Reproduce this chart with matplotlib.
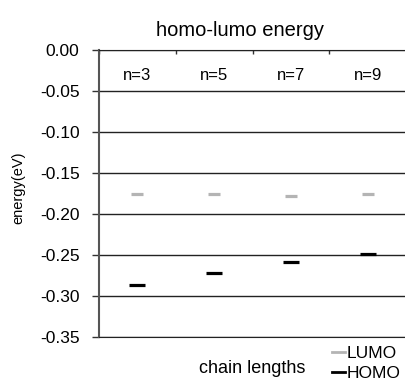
import matplotlib
matplotlib.use("Agg")
import matplotlib.pyplot as plt
from matplotlib.lines import Line2D

plt.rcParams['font.family'] = ['Liberation Sans', 'DejaVu Sans']

chains = ['n=3', 'n=5', 'n=7', 'n=9']
lumo = [-0.176, -0.176, -0.178, -0.176]
homo = [-0.287, -0.272, -0.259, -0.249]

fig = plt.figure(figsize=(4.06, 3.84), dpi=100)
ax = fig.add_axes([0.244, 0.1224, 0.756, 0.7476])

x = list(range(len(chains)))
ax.plot(x, lumo, linestyle='none', marker='_', markersize=8, markeredgewidth=2.3,
        color='#b4b4b4', label='LUMO')
ax.plot(x, homo, linestyle='none', marker='_', markersize=11, markeredgewidth=2.3,
        color='black', label='HOMO')

ax.set_xlim(-0.5, len(chains) - 0.5)
ax.set_ylim(-0.35, 0.0)
ax.set_yticks([-0.35, -0.30, -0.25, -0.20, -0.15, -0.10, -0.05, 0.00])
ax.set_yticklabels(['%.2f' % v for v in ax.get_yticks()], fontsize=12.5)
ax.yaxis.grid(True, color='#222222', linewidth=1)
ax.set_axisbelow(True)

# category labels inside, boundary ticks on top spine
ax.set_xticks(x)
ax.set_xticklabels(chains, fontsize=12)
ax.set_xticks([i - 0.5 for i in range(len(chains) + 1)], minor=True)
ax.tick_params(axis='x', which='major', top=True, bottom=False, labeltop=True,
               labelbottom=False, length=0, pad=-24)
ax.tick_params(axis='x', which='minor', top=True, bottom=False, direction='in',
               length=3, width=1, color='#333333')
ax.tick_params(axis='y', direction='out', length=5, width=1, color='#333333', pad=9)

ax.spines['right'].set_visible(False)
ax.spines['left'].set_color('#555555')
ax.spines['left'].set_linewidth(1.5)
ax.spines['top'].set_color('#222222')
ax.spines['bottom'].set_color('#222222')

ax.set_title('homo-lumo energy', fontsize=14.5, pad=10, x=0.46)
ax.set_ylabel('energy(eV)', fontsize=10.5)
ax.yaxis.set_label_coords(-0.24, 0.519)
ax.set_xlabel('chain lengths', fontsize=13)
ax.xaxis.set_label_coords(0.498, -0.08)

handles = [Line2D([], [], color='#b4b4b4', linewidth=2),
           Line2D([], [], color='black', linewidth=2)]
fig.legend(handles, ['LUMO', 'HOMO'], loc='upper left', bbox_to_anchor=(0.818, 0.1),
           frameon=False, fontsize=12.5, handlelength=0.75, handletextpad=0.1,
           labelspacing=0.3, borderpad=0, borderaxespad=0)

fig.savefig('out.png', dpi=100)
